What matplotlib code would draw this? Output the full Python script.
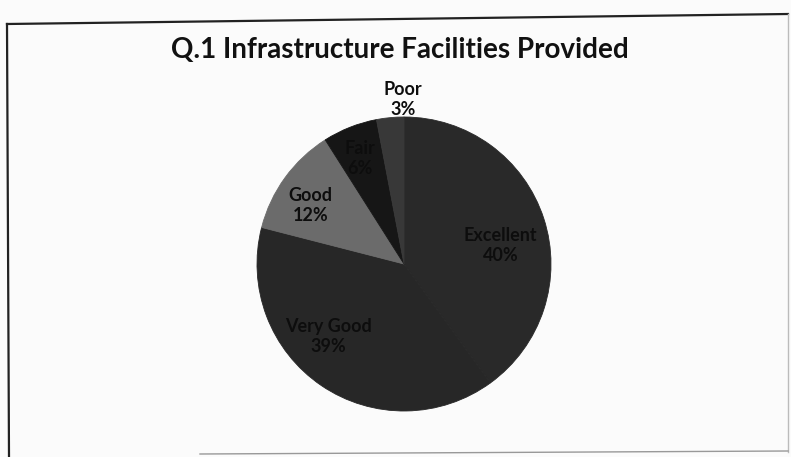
import numpy as np
import matplotlib as mpl
mpl.use('Agg')
import matplotlib.pyplot as plt
from matplotlib.lines import Line2D

# data
categories = ['Excellent', 'Very Good', 'Good', 'Fair', 'Poor']
shares = [40, 39, 12, 6, 3]   # percent
title = 'Q.1 Infrastructure Facilities Provided'

# greys of the scanned slices
colors = ['#292929', '#272727', '#6b6b6b', '#161616', '#383838']
label_r = [0.67, 0.71, 0.75, 0.78, 1.12]   # where each label sits (fraction of radius)
label_rot = [-7, -12, 4, 1, -5]            # small angular nudges, degrees

plt.rcParams['font.family'] = ['Lato', 'DejaVu Sans']

fig = plt.figure(figsize=(7.91, 4.57), dpi=100)
fig.patch.set_facecolor('#fbfbfb')

W, H = 791, 457
cx, cy, R = 404, 264, 150
ax = fig.add_axes([(cx - R) / W, 1 - (cy + R) / H, 2 * R / W, 2 * R / H])

wedges, _ = ax.pie(shares, colors=colors, startangle=90, counterclock=False,
                   radius=0.98, wedgeprops=dict(linewidth=0.6))
for w, c in zip(wedges, colors):
    w.set_edgecolor(c)
ax.set_xlim(-1, 1)
ax.set_ylim(-1, 1)
ax.set_aspect('equal')
ax.axis('off')

for w, name, pct, r, rot in zip(wedges, categories, shares, label_r, label_rot):
    mid = np.deg2rad((w.theta1 + w.theta2) / 2 + rot)
    x, y = r * 0.98 * np.cos(mid), r * 0.98 * np.sin(mid)
    ax.text(x, y, f'{name}\n{pct}%', ha='center', va='center', fontsize=13,
            fontweight='bold', color='#0d0d0d', linespacing=1.2)

fig.text(0.506, 1 - 50 / H, title, ha='center', va='center', fontsize=20,
         fontweight='bold', color='#111111')

# scanned border (slightly skewed)
fig.add_artist(Line2D([7 / W, 788 / W], [1 - 24 / H, 1 - 14 / H], color='#222222', lw=1.6))
fig.add_artist(Line2D([7 / W, 9 / W], [1 - 24 / H, 0], color='#222222', lw=1.6))
fig.add_artist(Line2D([788 / W, 788 / W], [1 - 14 / H, 1 - 452 / H], color='#bbbbbb', lw=1.0))
fig.add_artist(Line2D([200 / W, 788 / W], [1 - 454 / H, 1 - 451 / H], color='#999999', lw=1.0))

fig.savefig('out.png', dpi=100, facecolor=fig.get_facecolor())
